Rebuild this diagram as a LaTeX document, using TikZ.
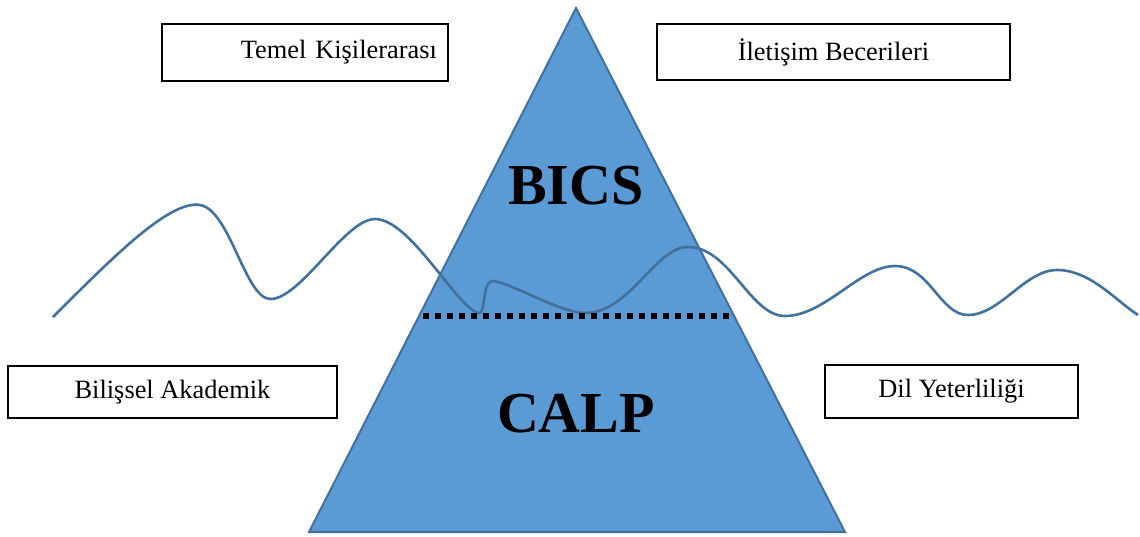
\documentclass[tikz,border=0pt]{standalone}
\usepackage{fontspec}
\setmainfont{Liberation Serif}
\usepackage{tikz}
\usetikzlibrary{positioning, calc}
\definecolor{iceblue}{HTML}{5B9BD5}
\definecolor{iceedge}{HTML}{41719C}

\begin{document}
\begin{tikzpicture}[
    % one unit = one pixel of the page
    x=0.5pt, y=-0.5pt,
    box/.style={rectangle, draw, line width=0.8pt, inner ysep=0pt, font=\fontsize{13.2}{15}\selectfont},
    peak/.style={fill=iceblue, draw=iceedge, line width=1pt},
    wave/.style={draw=iceedge, line width=1.3pt},
    sea/.style={draw=black, line width=3pt, dash pattern=on 3pt off 3pt},
    big/.style={font=\bfseries\fontsize{29}{32}\selectfont}
]
\useasboundingbox (0,0) rectangle (1140,536);
% Iceberg
\coordinate (top) at (576,8);
\coordinate (bl) at (309,532);
\coordinate (br) at (845,532);
\draw[peak] (top) -- (br) -- (bl) -- cycle;
% Water
\draw[wave] (53,317) .. controls (115,255) and (170,200) .. (200,205)
    .. controls (230,210) and (245,298) .. (270,299)
    .. controls (300,300) and (345,219) .. (375,219)
    .. controls (410,219) and (455,305) .. (478,313)
    .. controls (486,316) and (482,282) .. (492,281)
    .. controls (510,282) and (560,313) .. (585,313)
    .. controls (630,313) and (655,247) .. (688,247)
    .. controls (730,247) and (750,316) .. (785,316)
    .. controls (825,316) and (860,266) .. (895,266)
    .. controls (930,266) and (940,315) .. (968,315)
    .. controls (1000,315) and (1025,270) .. (1057,270)
    .. controls (1090,270) and (1115,300) .. (1138,315);
% Surface line
\coordinate (sl) at (423,316);
\coordinate (sr) at (732,316);
\draw[sea] (sl) -- (sr);
% Levels
\node (bics) [big] at (576,186) {BICS};
\node (calp) [big] at (576,414) {CALP};
% Boxes
\node (temel) [box, minimum width=143pt, minimum height=28.5pt, text width=132pt, inner xsep=5.5pt, align=right] at (305,52.5) {Temel Kişilerarası};
\node (iletisim) [box, minimum width=176.5pt, minimum height=28pt, align=center] at (833.5,52) {İletişim Becerileri};
\node (bilissel) [box, minimum width=164.5pt, minimum height=26pt, align=center] at (172.5,392) {Bilişsel Akademik};
\node (dil) [box, minimum width=126.5pt, minimum height=26.5pt, align=center] at (951.5,391.5) {Dil Yeterliliği};
\end{tikzpicture}
\end{document}
